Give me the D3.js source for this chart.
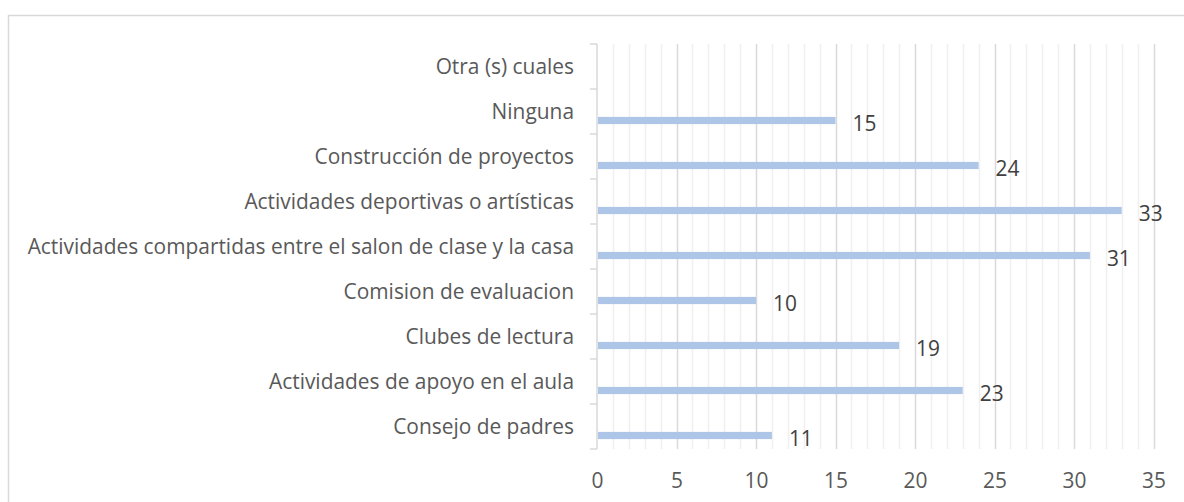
<!DOCTYPE html>
<html>
<head>
<meta charset="utf-8">
<script src="https://cdn.jsdelivr.net/npm/d3@7"></script>
<style>
  html, body { margin: 0; padding: 0; background: #fff; }
  svg { display: block; }
</style>
</head>
<body>
<svg id="chart" width="1184" height="502"></svg>
<script>
const categories = [
  "Consejo de padres",
  "Actividades de apoyo en el aula",
  "Clubes de lectura",
  "Comision de evaluacion",
  "Actividades compartidas entre el salon de clase y la casa",
  "Actividades deportivas o artísticas",
  "Construcción de proyectos",
  "Ninguna",
  "Otra (s) cuales"
];
const values = [11, 23, 19, 10, 31, 33, 24, 15, null];
const xTickValues = [0, 5, 10, 15, 20, 25, 30, 35];

const FONT = "'Open Sans', 'Noto Sans', sans-serif";
const FS = "20.9px";
const svg = d3.select("#chart");

// outer frame (chart area border)
svg.append("rect")
  .attr("x", 8.5).attr("y", 15.5)
  .attr("width", 1190).attr("height", 500)
  .attr("fill", "#fff")
  .attr("stroke", "#d9d9d9").attr("stroke-width", 1.5);

const plot = { left: 597, right: 1153.5, top: 44, bottom: 449 };

const x = d3.scaleLinear().domain([0, 35]).range([plot.left, plot.right]);
const y = d3.scaleBand()
  .domain(categories.slice().reverse())
  .range([plot.top, plot.bottom])
  .padding(0);
const bw = y.bandwidth();

// minor gridlines (every unit)
const minor = d3.range(1, 36).filter(v => v % 5 !== 0);
svg.append("g").selectAll("line").data(minor).join("line")
  .attr("x1", d => Math.round(x(d)) + 0.5).attr("x2", d => Math.round(x(d)) + 0.5)
  .attr("y1", plot.top).attr("y2", plot.bottom)
  .attr("stroke", "#f0f0f0").attr("stroke-width", 1.5);

// major gridlines
svg.append("g").selectAll("line").data(xTickValues.filter(v => v > 0)).join("line")
  .attr("x1", d => Math.round(x(d)) + 0.5).attr("x2", d => Math.round(x(d)) + 0.5)
  .attr("y1", plot.top).attr("y2", plot.bottom)
  .attr("stroke", "#d9d9d9").attr("stroke-width", 1.5);

// x tick labels
const xAxis = d3.axisBottom(x).tickValues(xTickValues).tickSize(0).tickPadding(0).tickFormat(d3.format("d"));
const gx = svg.append("g").attr("transform", `translate(0, 488)`).call(xAxis);
gx.select(".domain").remove();
gx.selectAll("text")
  .attr("dy", 0).attr("y", 0)
  .attr("fill", "#595959")
  .style("font-family", FONT).style("font-size", FS);

// y axis with ticks at band boundaries
const boundaries = d3.range(categories.length + 1).map(i => plot.top + i * bw);
svg.append("g").selectAll("line").data(boundaries).join("line")
  .attr("x1", plot.left - 7).attr("x2", plot.left)
  .attr("y1", d => d).attr("y2", d => d)
  .attr("stroke", "#d9d9d9").attr("stroke-width", 1.5);
svg.append("line")
  .attr("x1", plot.left).attr("x2", plot.left)
  .attr("y1", plot.top).attr("y2", plot.bottom)
  .attr("stroke", "#d9d9d9").attr("stroke-width", 1.5);

// category labels
svg.append("g").selectAll("text").data(categories).join("text")
  .attr("x", plot.left - 23)
  .attr("y", d => y(d) + bw / 2)
  .attr("dy", "0.36em")
  .attr("text-anchor", "end")
  .attr("fill", "#595959")
  .style("font-family", FONT).style("font-size", FS)
  .text(d => d);

// bars
const data = categories.map((c, i) => ({ c, v: values[i] })).filter(d => d.v != null);
svg.append("g").selectAll("rect").data(data).join("rect")
  .attr("x", x(0) + 1)
  .attr("y", d => y(d.c) + bw * 0.62)
  .attr("width", d => x(d.v) - x(0) - 1)
  .attr("height", bw * 0.16)
  .attr("fill", "#adc5e7");

// value labels
svg.append("g").selectAll("text").data(data).join("text")
  .attr("x", d => x(d.v) + 17)
  .attr("y", d => y(d.c) + bw * 0.70 + 3)
  .attr("dy", "0.36em")
  .attr("fill", "#404040")
  .style("font-family", FONT).style("font-size", FS)
  .text(d => d.v);
</script>
</body>
</html>
